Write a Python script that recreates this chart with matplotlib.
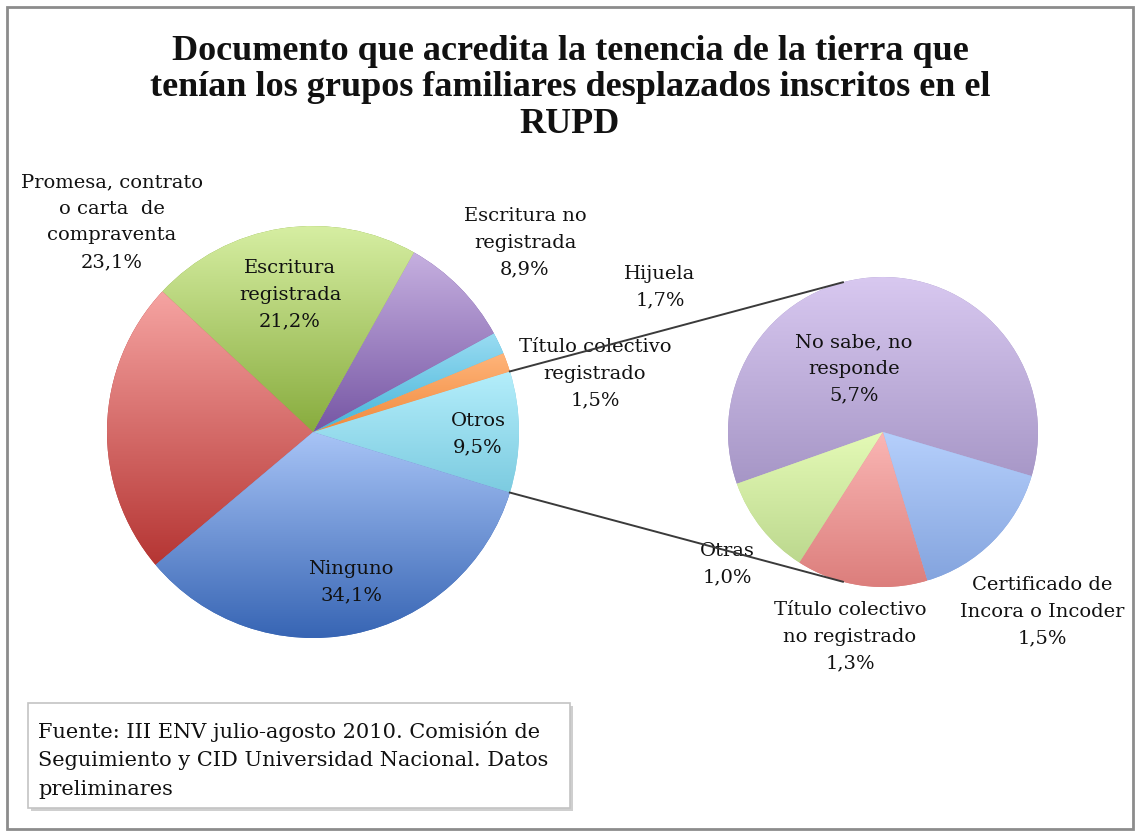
import matplotlib
matplotlib.use("Agg")
import matplotlib.pyplot as plt
import numpy as np
from matplotlib.colors import LinearSegmentedColormap
from matplotlib.patches import Rectangle

W, H = 1140, 836

# pie principal (sentido antihorario desde "Otros")
main_labels = ["Otros", "Título colectivo\nregistrado", "Hijuela", "Escritura no\nregistrada",
               "Escritura\nregistrada", "Promesa, contrato\no carta  de\ncompraventa", "Ninguno"]
main_values = [9.5, 1.5, 1.7, 8.9, 21.2, 23.1, 34.1]

# desglose de "Otros"
sub_labels = ["No sabe, no\nresponde", "Otras", "Título colectivo\nno registrado", "Certificado de\nIncora o Incoder"]
sub_values = [5.7, 1.0, 1.3, 1.5]

# colores (arriba, abajo) para el degradado de cada porción
main_colors = [("#b4eefb", "#7ccbe0"), ("#ffb47a", "#f08a3c"), ("#9adcf2", "#45b4d8"),
               ("#c6b0e0", "#7656a4"), ("#d6eea2", "#88ac3e"), ("#f6a4a2", "#b53533"),
               ("#a8c4f6", "#3765b4")]
sub_colors = [("#d8c8f0", "#a696c6"), ("#e4fab6", "#bcd88e"), ("#fab6b4", "#dc7e7c"),
              ("#b6d0fc", "#84a4de")]

# posiciones de etiquetas (px desde arriba)
main_pos = [(478, 434), (595, 374), (660, 287), (525, 243), (290, 295), (112, 222), (351, 582)]
sub_pos = [(854, 369), (727, 564), (850, 637), (1042, 612)]


def fmt(v):
    return f"{v:.1f}%".replace(".", ",")


def gradient_fill(ax, wedge, top, bottom):
    ext = wedge.get_path().get_extents()
    cmap = LinearSegmentedColormap.from_list("g", [bottom, top])
    grad = np.linspace(0, 1, 256).reshape(-1, 1)
    im = ax.imshow(grad, cmap=cmap, extent=(ext.x0, ext.x1, ext.y0, ext.y1),
                   origin="lower", aspect="auto", zorder=2, interpolation="bilinear")
    im.set_clip_path(wedge)


fig = plt.figure(figsize=(W / 100, H / 100), dpi=100)
ax = fig.add_axes([0, 0, 1, 1])
ax.set_xlim(0, W)
ax.set_ylim(0, H)
ax.axis("off")

main_c, main_r = (313, H - 432), 206
sub_c, sub_r = (883, H - 432), 155

start = -main_values[0] / sum(main_values) * 360 / 2
wedges, _ = ax.pie(main_values, startangle=start, center=main_c, radius=main_r,
                   colors=[c[1] for c in main_colors], wedgeprops=dict(linewidth=0))
sub_wedges, _ = ax.pie(sub_values, startangle=-16.5, center=sub_c, radius=sub_r,
                       colors=[c[1] for c in sub_colors], wedgeprops=dict(linewidth=0))
for w, (top, bottom) in zip(wedges, main_colors):
    gradient_fill(ax, w, top, bottom)
for w, (top, bottom) in zip(sub_wedges, sub_colors):
    gradient_fill(ax, w, top, bottom)
ax.set_xlim(0, W)
ax.set_ylim(0, H)

# líneas de unión: del borde de "Otros" a la tangente del pie secundario
for ang, sign in [(wedges[0].theta2, 1), (wedges[0].theta1, -1)]:
    px = main_c[0] + main_r * np.cos(np.radians(ang))
    py = main_c[1] + main_r * np.sin(np.radians(ang))
    dx, dy = px - sub_c[0], py - sub_c[1]
    d = np.hypot(dx, dy)
    a = np.arctan2(dy, dx) - sign * np.arccos(sub_r / d)
    qx = sub_c[0] + sub_r * np.cos(a)
    qy = sub_c[1] + sub_r * np.sin(a)
    ax.plot([px, qx], [py, qy], color="#3a3a3a", lw=1.4, zorder=6)

lab_font = dict(family="DejaVu Serif", fontsize=14, ha="center", va="center",
                linespacing=1.62, zorder=5, color="#111111")
for lab, v, (x, y) in zip(main_labels, main_values, main_pos):
    ax.text(x, H - y, f"{lab}\n{fmt(v)}", **lab_font)
for lab, v, (x, y) in zip(sub_labels, sub_values, sub_pos):
    ax.text(x, H - y, f"{lab}\n{fmt(v)}", **lab_font)

ax.text(570, H - 88, "Documento que acredita la tenencia de la tierra que\n"
        "tenían los grupos familiares desplazados inscritos en el\nRUPD",
        family="Liberation Serif", fontweight="bold", fontsize=26, ha="center",
        va="center", linespacing=1.14, color="#111111")

# recuadro de la fuente
ax.add_patch(Rectangle((31, H - 811), 542, 105, facecolor="#cfcfcf", edgecolor="none", zorder=3))
ax.add_patch(Rectangle((28, H - 808), 542, 105, facecolor="white", edgecolor="#c4c4c4", lw=1.2, zorder=4))
ax.text(38, H - 760, "Fuente: III ENV julio-agosto 2010. Comisión de\n"
        "Seguimiento y CID Universidad Nacional. Datos\npreliminares",
        family="DejaVu Serif", fontsize=15, ha="left", va="center", linespacing=1.62,
        zorder=5, color="#111111")

# marco del gráfico
ax.add_patch(Rectangle((7, 7), W - 14, H - 14, facecolor="none", edgecolor="#8c8c8c", lw=2, zorder=7))

fig.savefig("out.png", dpi=100)
